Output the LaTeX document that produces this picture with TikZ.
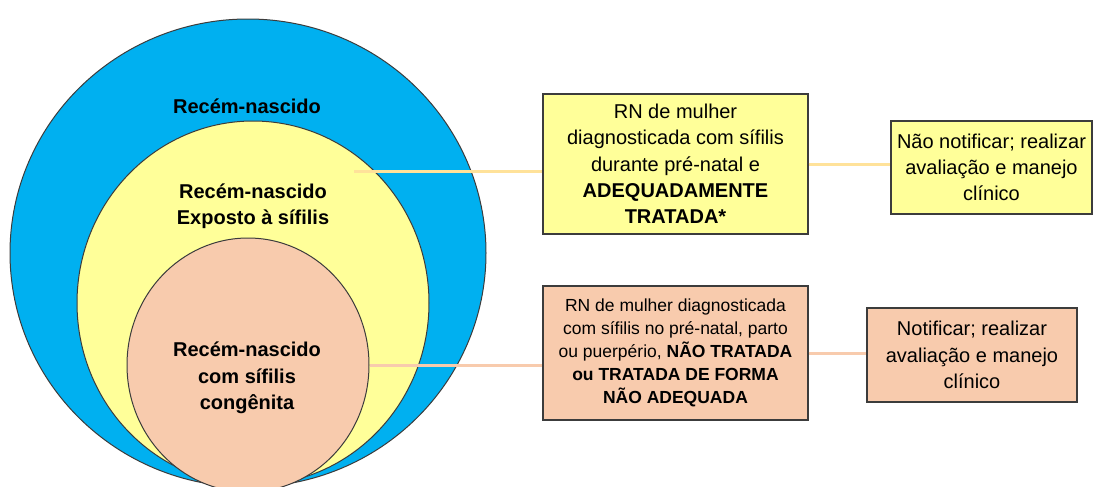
\documentclass[tikz,border=0pt]{standalone}
\usepackage{fontspec}
\setmainfont{Liberation Sans}
\usetikzlibrary{shapes.geometric}
\definecolor{rnblue}{HTML}{00B0F0}
\definecolor{rnyellow}{HTML}{FFFF99}
\definecolor{rnpeach}{HTML}{F8CBAD}
\definecolor{rngold}{HTML}{FFE29A}
\definecolor{rnedge}{HTML}{3C3C3C}

\begin{document}
\begin{tikzpicture}[x=0.5pt,y=-0.5pt,
  ring/.style={ellipse,draw=rnedge,line width=0.5pt,inner sep=0pt},
  ringtext/.style={align=center,font=\fontsize{10pt}{13.15pt}\selectfont\bfseries},
  infobox/.style={rectangle,draw=rnedge,line width=0.6pt,align=center,inner sep=0pt,font=\fontsize{10pt}{13.15pt}\selectfont},
  link/.style={line width=1.5pt}]
\useasboundingbox (0,0) rectangle (1094,487);

% Draw the three circles
\node[ring,fill=rnblue,minimum width=238pt,minimum height=234pt] (nb) at (248,253) {};
\node[ring,fill=rnyellow,minimum width=176pt,minimum height=182pt] (exp) at (253,303) {};
\node[ring,fill=rnpeach,minimum width=121pt,minimum height=127pt] (cong) at (248,365) {};

% Labels inside the circles
\node[ringtext] (tnb) at (247,106) {Recém-nascido};
\node[ringtext] (texp) at (253,206) {Recém-nascido\\Exposto à sífilis};
\node[ringtext] (tcong) at (247,378) {Recém-nascido\\com sífilis\\congênita};

% Boxes
\node[infobox,fill=rnyellow,minimum width=132.5pt,minimum height=70pt] (adq) at (675.5,164)
  {RN de mulher\\diagnosticada com sífilis\\durante pré-natal e\\\textbf{ADEQUADAMENTE}\\\textbf{TRATADA*}};
\node[infobox,fill=rnyellow,minimum width=100.5pt,minimum height=46.5pt] (naonot) at (991.5,167.5)
  {Não notificar; realizar\\avaliação e manejo\\clínico};
\node[infobox,fill=rnpeach,minimum width=132.5pt,minimum height=67pt,font=\fontsize{8.75pt}{11.5pt}\selectfont] (naoadq) at (675.5,353)
  {RN de mulher diagnosticada\\com sífilis no pré-natal, parto\\ou puerpério, \textbf{NÃO TRATADA}\\\textbf{ou TRATADA DE FORMA}\\\textbf{NÃO ADEQUADA}};
\node[infobox,fill=rnpeach,minimum width=105pt,minimum height=47pt] (notif) at (972,355)
  {Notificar; realizar\\avaliação e manejo\\clínico};

% Connectors
\coordinate (pexp) at (354,171);
\draw[link,rngold] (pexp) -- (pexp -| adq.west);
\draw[link,rngold] (adq.east) -- (adq.east -| naonot.west);
\draw[link,rnpeach] (cong.east) -- (cong.east -| naoadq.west);
\draw[link,rnpeach] (naoadq.east) -- (naoadq.east -| notif.west);
\end{tikzpicture}
\end{document}
